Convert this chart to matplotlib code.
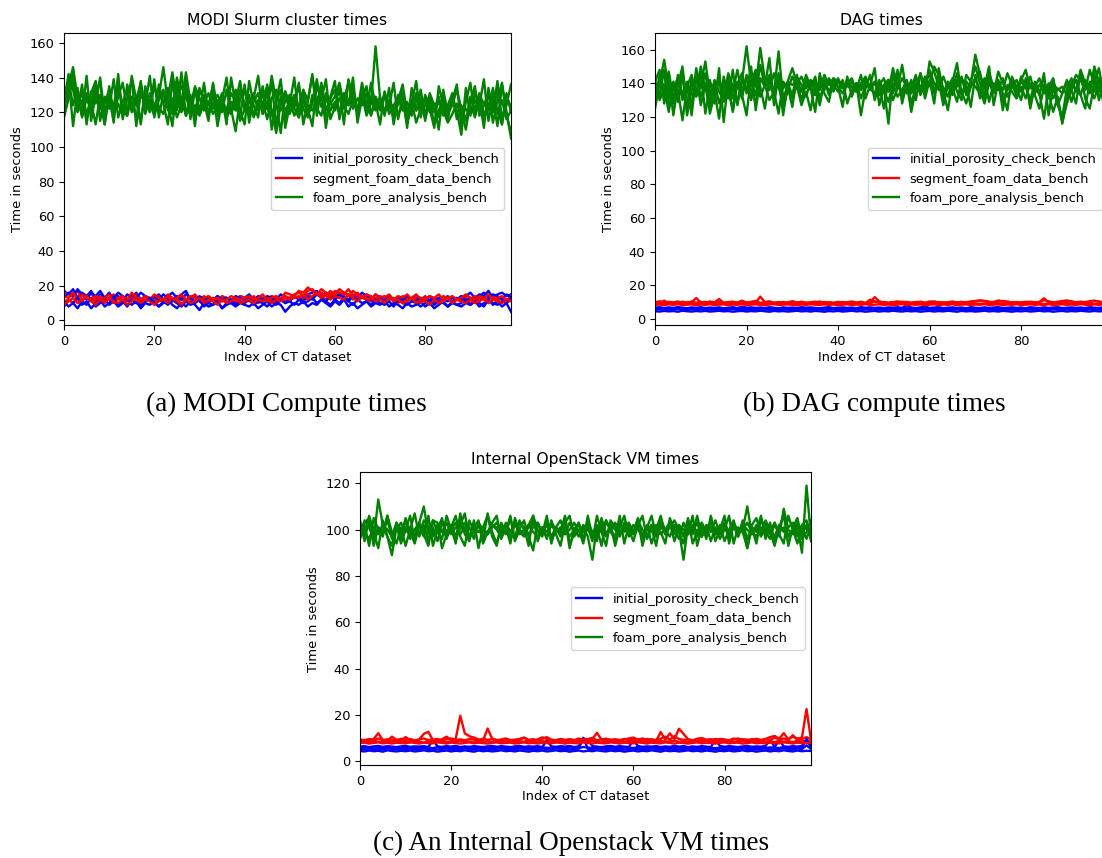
import matplotlib.pyplot as plt
import numpy as np

# ---- MODI Slurm cluster (a) ----
modi_green = [
    [120, 135, 146, 128, 118, 131, 124, 137, 115, 129, 122, 139, 117, 126, 133, 120, 128, 136, 119, 131,
     124, 129, 146, 125, 121, 140, 127, 118, 123, 135, 128, 121, 126, 119, 124, 131, 117, 122, 109, 128,
     134, 121, 126, 131, 119, 124, 137, 112, 129, 121, 126, 118, 124, 133, 127, 141, 122, 118, 131, 125,
     129, 137, 124, 119, 127, 122, 130, 118, 125, 158, 128, 121, 126, 119, 130, 124, 118, 127, 121, 133,
     117, 126, 122, 129, 118, 124, 131, 116, 121, 110, 126, 135, 118, 124, 131, 114, 127, 137, 119, 108],
    [125, 142, 133, 120, 127, 116, 131, 138, 122, 125, 133, 118, 129, 137, 121, 126, 117, 132, 127, 120,
     136, 123, 119, 128, 143, 126, 120, 132, 124, 118, 121, 130, 124, 136, 118, 127, 121, 131, 126, 115,
     122, 130, 118, 127, 124, 136, 121, 108, 125, 132, 119, 127, 135, 122, 117, 130, 124, 137, 121, 128,
     133, 120, 126, 138, 122, 128, 124, 131, 119, 126, 121, 129, 124, 117, 125, 132, 121, 126, 114, 122,
     128, 120, 125, 117, 130, 121, 127, 119, 124, 115, 129, 121, 131, 118, 125, 120, 133, 117, 124, 136],
    [118, 129, 138, 124, 131, 119, 126, 113, 130, 122, 127, 124, 136, 121, 118, 129, 124, 138, 120, 127,
     122, 131, 125, 134, 119, 127, 135, 129, 121, 124, 118, 125, 131, 122, 127, 120, 133, 119, 126, 138,
     121, 128, 117, 124, 130, 122, 118, 126, 133, 111, 124, 130, 121, 127, 118, 125, 139, 123, 128, 121,
     126, 119, 131, 124, 128, 121, 137, 125, 118, 129, 123, 131, 119, 124, 128, 121, 126, 118, 131, 124,
     120, 127, 113, 121, 128, 119, 124, 133, 122, 116, 123, 118, 130, 125, 121, 134, 119, 127, 116, 121],
    [130, 138, 124, 134, 117, 128, 121, 133, 126, 113, 129, 121, 125, 118, 136, 124, 129, 115, 131, 125,
     118, 127, 133, 121, 128, 117, 124, 143, 126, 120, 133, 127, 119, 125, 130, 124, 118, 126, 121, 133,
     125, 119, 131, 121, 126, 116, 128, 133, 121, 126, 130, 122, 117, 128, 124, 121, 128, 131, 117, 126,
     121, 128, 122, 126, 134, 120, 127, 123, 129, 121, 126, 119, 127, 122, 118, 126, 114, 123, 128, 119,
     124, 130, 120, 126, 121, 114, 119, 125, 118, 122, 119, 127, 122, 116, 124, 130, 121, 113, 131, 120],
    [122, 140, 112, 133, 118, 141, 115, 130, 138, 113, 135, 120, 142, 116, 128, 139, 112, 131, 124, 141,
     117, 136, 125, 113, 138, 121, 143, 118, 130, 112, 134, 126, 115, 137, 121, 129, 113, 140, 124, 117,
     136, 114, 128, 141, 119, 133, 110, 127, 139, 115, 130, 122, 137, 113, 126, 142, 118, 134, 111, 129,
     138, 116, 131, 124, 140, 114, 128, 135, 119, 126, 113, 132, 123, 137, 116, 129, 111, 134, 121, 128,
     115, 131, 124, 110, 133, 119, 127, 136, 112, 126, 137, 117, 128, 111, 134, 120, 138, 113, 129, 123],
    [117, 128, 144, 121, 136, 113, 132, 125, 140, 118, 129, 114, 137, 123, 118, 141, 127, 113, 135, 122,
     139, 117, 131, 126, 112, 135, 121, 138, 116, 133, 120, 137, 118, 131, 112, 127, 140, 119, 133, 121,
     113, 138, 124, 117, 135, 122, 141, 126, 108, 132, 125, 140, 117, 131, 122, 112, 136, 127, 139, 116,
     123, 134, 113, 139, 128, 119, 133, 121, 137, 124, 129, 118, 134, 113, 127, 136, 119, 125, 138, 117,
     130, 122, 111, 135, 124, 116, 129, 121, 107, 134, 118, 131, 124, 139, 115, 128, 112, 136, 120, 105],
]
modi_red = [
    [16, 15, 14, 17, 12, 13, 16, 11, 14, 12, 13, 15, 12, 14, 11, 13, 15, 12, 14, 13,
     11, 14, 12, 15, 13, 11, 14, 12, 13, 15, 12, 14, 11, 13, 12, 14, 13, 11, 12, 14,
     13, 12, 14, 11, 13, 12, 14, 13, 12, 14, 13, 15, 16, 14, 17, 18, 15, 16, 14, 17,
     15, 18, 16, 14, 17, 15, 13, 14, 12, 15, 13, 14, 12, 13, 11, 14, 12, 13, 15, 12,
     14, 11, 13, 12, 14, 13, 11, 12, 14, 13, 12, 14, 11, 13, 12, 14, 12, 13, 11, 14],
    [11, 12, 10, 13, 11, 14, 12, 10, 13, 11, 12, 10, 13, 11, 12, 14, 10, 12, 11, 13,
     10, 12, 11, 13, 12, 10, 12, 11, 13, 10, 12, 11, 10, 12, 11, 13, 10, 12, 11, 10,
     12, 11, 13, 10, 12, 11, 12, 10, 13, 11, 12, 13, 14, 12, 15, 13, 16, 14, 12, 15,
     14, 13, 16, 15, 12, 14, 13, 12, 11, 13, 12, 11, 13, 12, 10, 12, 11, 13, 12, 10,
     12, 11, 10, 12, 11, 13, 10, 12, 11, 12, 10, 11, 13, 12, 10, 12, 11, 13, 10, 12],
    [14, 13, 16, 12, 15, 13, 11, 14, 12, 13, 15, 11, 13, 14, 12, 16, 13, 11, 14, 12,
     15, 13, 12, 14, 11, 13, 15, 12, 14, 13, 11, 13, 14, 12, 13, 11, 12, 14, 13, 12,
     13, 14, 12, 13, 15, 12, 13, 14, 12, 16, 15, 14, 17, 16, 19, 17, 15, 18, 16, 14,
     17, 16, 15, 18, 14, 16, 13, 15, 14, 12, 14, 13, 15, 12, 14, 13, 15, 12, 14, 13,
     12, 14, 13, 15, 12, 13, 14, 12, 13, 15, 13, 12, 14, 13, 15, 12, 13, 14, 12, 13],
    [9, 11, 13, 10, 12, 14, 11, 9, 12, 10, 13, 11, 10, 12, 9, 11, 13, 10, 12, 11,
     9, 11, 12, 10, 13, 11, 9, 12, 10, 11, 13, 10, 12, 11, 9, 12, 10, 11, 13, 10,
     11, 12, 10, 12, 11, 13, 10, 12, 11, 13, 12, 14, 13, 15, 12, 14, 16, 13, 15, 12,
     14, 13, 12, 15, 13, 11, 14, 12, 13, 11, 12, 10, 13, 11, 12, 10, 11, 13, 10, 12,
     11, 9, 12, 10, 11, 13, 10, 12, 11, 10, 12, 10, 11, 13, 10, 12, 11, 10, 12, 11],
]
modi_blue = [
    [17, 15, 18, 13, 16, 14, 17, 12, 15, 13, 16, 12, 14, 11, 15, 13, 16, 12, 14, 11,
     13, 15, 12, 14, 16, 13, 15, 17, 12, 14, 11, 9, 13, 12, 14, 11, 13, 12, 10, 14,
     13, 15, 12, 14, 13, 11, 14, 12, 15, 13, 11, 14, 12, 13, 15, 16, 17, 14, 16, 15,
     13, 16, 14, 12, 15, 13, 16, 14, 12, 15, 13, 11, 14, 12, 13, 11, 14, 12, 13, 11,
     12, 14, 11, 13, 12, 14, 11, 13, 12, 14, 16, 13, 15, 14, 17, 13, 15, 16, 14, 15],
    [8, 12, 10, 7, 11, 9, 13, 8, 10, 12, 9, 11, 8, 10, 12, 9, 11, 7, 10, 9,
     11, 8, 10, 12, 9, 7, 10, 8, 11, 9, 6, 10, 8, 9, 11, 7, 9, 10, 8, 10,
     9, 8, 10, 7, 9, 11, 8, 10, 9, 5, 8, 10, 9, 11, 8, 10, 9, 12, 10, 8,
     11, 9, 12, 8, 10, 7, 9, 11, 8, 10, 9, 11, 8, 10, 9, 7, 10, 8, 9, 11,
     8, 10, 7, 9, 11, 8, 10, 9, 8, 10, 9, 11, 8, 10, 12, 9, 11, 8, 10, 5],
    [13, 16, 14, 18, 15, 12, 16, 14, 17, 13, 15, 13, 16, 14, 12, 15, 13, 16, 14, 12,
     14, 12, 15, 13, 11, 14, 12, 15, 13, 11, 14, 12, 13, 11, 14, 12, 13, 11, 14, 13,
     12, 14, 11, 13, 12, 14, 13, 11, 12, 10, 12, 14, 13, 11, 14, 12, 15, 13, 11, 14,
     12, 15, 13, 11, 14, 12, 13, 15, 12, 11, 13, 12, 14, 11, 13, 12, 14, 12, 11, 13,
     12, 14, 11, 13, 12, 11, 13, 12, 14, 11, 13, 12, 14, 16, 13, 15, 14, 12, 15, 13],
    [11, 8, 10, 13, 9, 11, 7, 10, 12, 8, 10, 13, 9, 11, 8, 12, 10, 9, 11, 13,
     10, 8, 11, 9, 12, 10, 8, 11, 9, 10, 12, 8, 10, 9, 11, 7, 10, 12, 9, 11,
     10, 12, 9, 11, 10, 8, 11, 9, 12, 10, 11, 9, 12, 10, 11, 13, 10, 12, 11, 9,
     12, 10, 13, 11, 9, 12, 10, 11, 9, 12, 10, 9, 11, 8, 12, 10, 9, 11, 10, 8,
     10, 12, 9, 11, 10, 8, 11, 9, 10, 12, 9, 11, 10, 8, 12, 10, 9, 11, 10, 13],
]

# ---- DAG (b) ----
dag_green = [
    [125, 140, 154, 136, 128, 145, 133, 141, 126, 149, 137, 146, 128, 142, 135, 130, 146, 138, 129, 141,
     162, 140, 133, 151, 138, 145, 130, 144, 137, 141, 139, 142, 135, 145, 138, 133, 141, 136, 143, 139,
     141, 137, 142, 138, 135, 140, 144, 137, 141, 133, 139, 142, 136, 145, 131, 140, 136, 143, 138, 134,
     153, 147, 138, 134, 141, 137, 129, 143, 136, 140, 157, 145, 138, 142, 134, 147, 140, 136, 143, 138,
     141, 137, 144, 134, 139, 142, 131, 140, 136, 138, 133, 140, 136, 145, 139, 134, 150, 141, 136, 139],
    [135, 142, 146, 131, 140, 136, 118, 138, 145, 133, 150, 136, 142, 128, 149, 117, 142, 135, 148, 133,
     121, 145, 138, 161, 142, 136, 146, 138, 128, 141, 149, 140, 144, 137, 142, 140, 136, 145, 139, 143,
     141, 140, 138, 141, 136, 145, 131, 139, 149, 127, 138, 116, 145, 137, 151, 134, 142, 130, 146, 137,
     140, 150, 145, 131, 140, 137, 146, 133, 141, 138, 142, 147, 131, 143, 137, 141, 136, 146, 139, 133,
     142, 148, 137, 140, 134, 119, 138, 143, 130, 116, 131, 138, 145, 142, 136, 148, 139, 135, 143, 122],
    [140, 133, 148, 125, 137, 143, 130, 139, 121, 145, 132, 140, 125, 137, 143, 131, 139, 124, 141, 136,
     143, 130, 146, 138, 125, 142, 135, 159, 131, 138, 126, 144, 139, 132, 141, 137, 127, 142, 135, 141,
     138, 134, 140, 143, 135, 138, 142, 136, 140, 139, 143, 135, 149, 139, 134, 141, 137, 145, 133, 140,
     148, 140, 136, 144, 137, 143, 135, 130, 145, 141, 150, 140, 133, 146, 138, 142, 129, 137, 141, 134,
     144, 138, 130, 141, 135, 139, 134, 142, 127, 120, 137, 143, 135, 148, 140, 137, 146, 130, 141, 135],
    [130, 145, 137, 123, 141, 129, 146, 121, 136, 144, 127, 139, 122, 134, 141, 129, 137, 123, 140, 131,
     145, 136, 128, 143, 139, 130, 135, 122, 141, 137, 131, 139, 127, 135, 124, 140, 137, 142, 133, 139,
     135, 142, 128, 136, 140, 131, 139, 137, 134, 141, 136, 129, 140, 132, 136, 142, 128, 138, 135, 141,
     145, 136, 141, 127, 139, 133, 142, 135, 128, 138, 143, 136, 128, 140, 135, 142, 124, 139, 135, 131,
     138, 131, 140, 133, 125, 138, 134, 123, 132, 117, 128, 136, 142, 133, 125, 141, 135, 143, 128, 131],
    [141, 148, 128, 145, 121, 139, 150, 126, 143, 133, 147, 122, 140, 135, 119, 144, 131, 148, 127, 142,
     136, 150, 124, 143, 138, 155, 127, 146, 121, 140, 133, 145, 128, 141, 137, 123, 146, 134, 129, 143,
     138, 126, 144, 132, 140, 121, 137, 145, 130, 139, 125, 142, 134, 148, 128, 140, 123, 137, 146, 131,
     142, 128, 149, 135, 124, 141, 152, 133, 139, 126, 145, 131, 138, 150, 127, 141, 134, 124, 144, 137,
     130, 143, 125, 139, 133, 146, 121, 138, 127, 134, 142, 136, 128, 147, 131, 125, 140, 149, 133, 127],
    [142, 130, 137, 147, 131, 139, 144, 126, 142, 132, 139, 153, 133, 141, 128, 137, 144, 131, 139, 146,
     134, 141, 148, 132, 139, 143, 135, 141, 125, 136, 144, 138, 130, 142, 136, 144, 131, 139, 142, 135,
     143, 137, 141, 134, 140, 136, 141, 138, 133, 142, 135, 141, 130, 137, 143, 138, 134, 140, 136, 144,
     139, 134, 145, 137, 132, 142, 138, 144, 133, 141, 138, 134, 143, 129, 140, 136, 143, 132, 138, 142,
     135, 141, 127, 138, 143, 134, 140, 131, 137, 134, 141, 129, 137, 133, 142, 138, 131, 139, 144, 136],
]
dag_red = [
    [9.0, 9.6, 10.8, 9.3, 9.8, 9.1, 10.2, 9.4, 9.9, 12.4, 9.7, 10.1, 9.3, 9.8, 11.8, 9.5, 10.0, 9.2, 9.7, 10.3,
     9.4, 9.9, 9.6, 13.2, 9.8, 10.2, 9.3, 9.7, 10.0, 9.4, 9.9, 9.5, 10.1, 9.6, 9.2, 9.8, 10.3, 9.5, 9.9, 9.3,
     9.7, 10.0, 9.4, 9.8, 9.6, 10.1, 9.3, 9.8, 12.9, 10.4, 9.7, 9.4, 9.9, 9.6, 10.2, 9.8, 9.5, 10.0, 9.7, 9.3,
     9.9, 10.4, 9.6, 9.8, 9.4, 10.1, 9.7, 9.5, 9.9, 10.3, 10.6, 10.8, 10.5, 9.7, 10.0, 10.9, 10.4, 9.6, 9.9, 9.4,
     9.8, 10.1, 9.5, 9.7, 10.0, 12.2, 9.6, 9.9, 9.4, 9.8, 10.5, 10.2, 9.7, 9.5, 10.1, 9.8, 10.6, 10.3, 9.7, 9.5],
    [8.6, 9.2, 8.8, 9.4, 8.9, 9.1, 8.7, 9.3, 8.8, 9.0, 8.7, 9.2, 8.9, 8.6, 9.1, 8.8, 9.3, 8.7, 9.0, 8.9,
     9.4, 8.8, 9.1, 8.7, 9.0, 9.2, 8.8, 9.1, 8.9, 8.7, 9.0, 9.3, 8.8, 9.1, 8.7, 8.9, 9.2, 8.8, 9.0, 9.3,
     8.9, 8.7, 9.1, 8.8, 9.0, 9.2, 8.9, 9.1, 10.4, 9.7, 9.0, 8.8, 9.2, 8.9, 9.1, 9.4, 8.8, 9.0, 8.7, 9.1,
     8.9, 9.2, 8.8, 9.0, 9.3, 8.9, 8.7, 9.1, 8.8, 9.0, 9.2, 8.9, 9.1, 8.8, 9.0, 8.7, 9.2, 8.9, 9.1, 8.8,
     9.0, 8.7, 9.1, 8.9, 9.2, 8.8, 9.0, 8.7, 9.1, 8.9, 9.3, 8.8, 9.0, 9.2, 8.9, 9.1, 8.8, 9.0, 8.9, 9.2],
    [9.8, 10.4, 9.5, 10.1, 9.7, 10.3, 9.4, 9.9, 10.2, 9.6, 10.0, 9.5, 10.3, 9.8, 10.1, 9.4, 9.9, 10.2, 9.6, 10.8,
     9.7, 10.1, 10.6, 9.5, 9.9, 10.3, 9.6, 10.0, 9.4, 9.8, 10.5, 9.7, 10.1, 9.5, 9.9, 10.2, 9.6, 10.0, 9.8, 9.5,
     10.1, 9.7, 9.9, 10.3, 9.6, 10.0, 9.4, 11.4, 10.2, 9.7, 10.0, 9.6, 9.9, 10.4, 9.7, 10.1, 9.5, 9.9, 10.2, 9.6,
     10.3, 9.8, 10.0, 9.6, 9.9, 10.2, 9.7, 10.1, 9.5, 9.9, 10.4, 10.9, 10.7, 10.2, 9.8, 10.1, 10.6, 10.3, 9.7, 10.0,
     9.6, 9.9, 10.2, 9.7, 10.0, 11.1, 10.4, 9.8, 10.1, 10.6, 10.9, 10.4, 9.8, 10.2, 9.7, 10.5, 10.8, 10.1, 9.6, 9.9],
    [8.2, 8.5, 8.1, 8.6, 8.3, 8.7, 8.2, 8.4, 8.6, 8.1, 8.5, 8.3, 8.7, 8.2, 8.4, 8.6, 8.1, 8.5, 8.3, 8.7,
     8.2, 8.4, 8.6, 8.3, 8.1, 8.5, 8.7, 8.2, 8.4, 8.6, 8.3, 8.1, 8.5, 8.2, 8.7, 8.4, 8.2, 8.6, 8.3, 8.5,
     8.1, 8.4, 8.6, 8.2, 8.5, 8.3, 8.7, 8.2, 8.4, 8.6, 8.3, 8.5, 8.1, 8.4, 8.7, 8.2, 8.5, 8.3, 8.6, 8.1,
     8.4, 8.6, 8.2, 8.5, 8.3, 8.7, 8.1, 8.4, 8.6, 8.2, 8.5, 8.3, 8.7, 8.2, 8.4, 8.6, 8.1, 8.5, 8.3, 8.7,
     8.2, 8.4, 8.6, 8.3, 8.5, 8.1, 8.7, 8.2, 8.4, 8.6, 8.3, 8.5, 8.2, 8.7, 8.4, 8.1, 8.6, 8.3, 8.5, 8.2],
]
dag_blue = [
    [6.6, 6.9, 6.4, 6.8, 6.5, 7.0, 6.6, 6.3, 6.8, 6.5, 6.9, 6.4, 6.7, 6.5, 6.8, 6.3, 6.6, 6.9, 6.4, 7.2,
     6.6, 6.8, 6.5, 6.7, 6.4, 6.9, 6.6, 6.3, 6.8, 6.5, 6.7, 6.4, 6.9, 6.6, 6.8, 6.5, 6.3, 6.7, 6.9, 6.4,
     6.6, 6.8, 6.5, 6.7, 6.4, 6.9, 6.6, 6.8, 6.5, 6.7, 6.4, 6.8, 6.6, 6.9, 6.5, 8.0, 6.7, 6.4, 6.8, 7.2,
     6.5, 6.7, 6.9, 6.4, 6.6, 6.8, 6.5, 6.7, 6.3, 6.9, 6.6, 6.4, 6.8, 6.5, 6.7, 6.9, 6.4, 6.6, 6.8, 6.5,
     6.7, 6.3, 6.9, 6.6, 6.4, 6.8, 6.5, 6.7, 6.9, 6.4, 6.6, 6.8, 6.5, 6.7, 6.4, 6.9, 6.6, 6.5, 6.8, 6.7],
    [5.5, 5.8, 5.3, 5.7, 5.4, 5.9, 5.5, 5.2, 5.7, 5.4, 5.8, 5.3, 5.6, 5.4, 5.7, 5.2, 5.5, 5.8, 5.3, 5.6,
     5.4, 5.7, 5.5, 5.2, 5.8, 5.4, 5.6, 5.3, 5.7, 5.5, 5.2, 5.6, 5.8, 5.4, 5.5, 5.7, 5.3, 5.6, 5.4, 5.8,
     5.5, 5.3, 5.7, 5.4, 5.6, 5.2, 5.8, 5.5, 5.3, 5.7, 5.4, 5.6, 5.8, 5.3, 5.5, 5.7, 5.4, 5.2, 5.6, 5.8,
     5.3, 5.5, 5.7, 5.4, 5.6, 5.3, 5.8, 5.5, 5.2, 5.7, 5.4, 5.6, 5.3, 5.8, 5.5, 5.4, 5.7, 5.2, 5.6, 5.5,
     5.8, 5.3, 5.5, 5.7, 5.4, 5.6, 5.2, 5.8, 5.5, 5.3, 5.7, 5.4, 5.6, 5.5, 5.3, 5.8, 5.4, 5.6, 5.7, 5.5],
    [4.5, 4.3, 4.7, 4.4, 4.6, 4.2, 4.8, 4.5, 4.3, 4.6, 4.4, 4.7, 4.3, 4.5, 4.8, 4.4, 4.6, 4.2, 4.5, 4.7,
     4.3, 4.6, 4.4, 4.8, 4.5, 4.2, 4.7, 4.4, 4.6, 4.3, 4.5, 4.8, 4.4, 4.6, 4.3, 4.7, 4.5, 4.2, 4.6, 4.4,
     4.7, 4.3, 4.5, 4.8, 4.4, 4.6, 4.2, 4.5, 4.7, 4.3, 4.6, 4.4, 4.8, 4.5, 4.3, 4.7, 4.4, 4.6, 4.2, 4.5,
     4.7, 4.3, 4.6, 4.4, 4.8, 4.5, 4.2, 4.7, 4.4, 4.6, 4.3, 4.5, 4.8, 4.4, 4.6, 4.3, 4.7, 4.5, 4.2, 4.6,
     4.4, 4.7, 4.3, 4.5, 4.8, 4.4, 4.6, 4.2, 4.5, 4.7, 4.3, 4.6, 4.4, 4.8, 4.5, 4.3, 4.7, 4.4, 4.6, 4.5],
    [6.1, 5.9, 6.3, 6.0, 6.2, 5.8, 6.4, 6.1, 5.9, 6.2, 6.0, 6.3, 5.9, 6.1, 6.4, 6.0, 6.2, 5.8, 6.1, 6.3,
     5.9, 6.2, 6.0, 6.4, 6.1, 5.8, 6.3, 6.0, 6.2, 5.9, 6.1, 6.4, 6.0, 6.2, 5.9, 6.3, 6.1, 5.8, 6.2, 6.0,
     6.3, 5.9, 6.1, 6.4, 6.0, 6.2, 5.8, 6.1, 6.3, 5.9, 6.2, 6.0, 6.4, 6.1, 5.9, 6.3, 6.0, 6.2, 5.8, 6.1,
     6.3, 5.9, 6.2, 6.0, 6.4, 6.1, 5.8, 6.3, 6.0, 6.2, 5.9, 6.1, 6.4, 6.0, 6.2, 5.9, 6.3, 6.1, 5.8, 6.2,
     6.0, 6.3, 5.9, 6.1, 6.4, 6.0, 6.2, 5.8, 6.1, 6.3, 5.9, 6.2, 6.0, 6.4, 6.1, 5.9, 6.3, 6.0, 6.2, 6.1],
]

# ---- Internal OpenStack VM (c) ----
vm_green = [
    [98, 104, 101, 96, 113, 102, 97, 89, 101, 99, 104, 96, 100, 103, 110, 98, 101, 95, 103, 99,
     102, 97, 104, 99, 101, 96, 103, 100, 98, 102, 101, 97, 103, 99, 96, 104, 100, 98, 101, 103,
     99, 102, 97, 101, 104, 98, 100, 103, 99, 101, 97, 87, 102, 99, 104, 100, 97, 103, 99, 101,
     98, 104, 100, 97, 102, 99, 103, 98, 101, 104, 100, 87, 102, 99, 103, 97, 101, 99, 104, 98,
     101, 97, 103, 99, 100, 110, 98, 102, 97, 101, 99, 103, 97, 109, 100, 98, 102, 90, 119, 96],
    [104, 95, 106, 99, 92, 104, 97, 93, 103, 96, 105, 99, 94, 102, 97, 106, 93, 100, 105, 96,
     102, 94, 107, 98, 95, 104, 92, 101, 106, 97, 93, 103, 99, 106, 95, 100, 104, 97, 91, 103,
     98, 106, 94, 101, 97, 105, 92, 100, 103, 95, 106, 97, 101, 93, 104, 99, 96, 106, 94, 102,
     98, 104, 93, 101, 106, 97, 99, 94, 105, 100, 96, 103, 98, 106, 93, 101, 97, 104, 95, 100,
     106, 94, 102, 97, 104, 92, 101, 99, 106, 96, 103, 95, 100, 107, 93, 101, 105, 96, 99, 104],
    [97, 103, 105, 93, 101, 98, 106, 96, 102, 94, 100, 106, 95, 103, 98, 93, 104, 99, 96, 106,
     100, 95, 102, 107, 96, 101, 104, 94, 99, 103, 106, 96, 101, 94, 105, 99, 97, 102, 106, 95,
     101, 96, 104, 98, 93, 103, 106, 97, 100, 94, 103, 99, 95, 105, 98, 102, 93, 101, 106, 97,
     99, 105, 96, 102, 94, 100, 106, 98, 103, 95, 101, 97, 105, 94, 99, 103, 96, 106, 98, 102,
     95, 100, 104, 97, 103, 96, 101, 94, 105, 99, 96, 103, 98, 94, 106, 100, 97, 102, 104, 95],
    [96, 102, 93, 105, 100, 97, 106, 99, 94, 101, 93, 100, 107, 97, 102, 95, 104, 103, 92, 98,
     101, 106, 97, 93, 104, 99, 102, 95, 107, 99, 94, 101, 98, 105, 96, 103, 101, 93, 106, 100,
     97, 104, 95, 101, 99, 106, 94, 98, 103, 96, 101, 95, 106, 99, 93, 104, 101, 97, 103, 100,
     95, 102, 106, 96, 101, 93, 104, 100, 97, 102, 99, 94, 104, 98, 106, 97, 102, 95, 101, 96,
     100, 106, 94, 101, 99, 92, 102, 105, 98, 103, 99, 93, 101, 106, 97, 100, 94, 101, 96, 102],
    [100, 98, 102, 95, 101, 99, 104, 97, 100, 103, 99, 101, 97, 102, 100, 104, 98, 101, 99, 97,
     100, 103, 98, 101, 97, 99, 102, 100, 98, 101, 103, 99, 100, 97, 102, 100, 98, 101, 103, 99,
     100, 97, 102, 99, 101, 98, 103, 100, 97, 102, 100, 99, 97, 102, 98, 100, 103, 99, 101, 98,
     102, 100, 97, 101, 99, 102, 98, 100, 103, 99, 101, 98, 100, 102, 99, 97, 101, 103, 98, 100,
     102, 99, 101, 98, 100, 103, 99, 97, 101, 100, 98, 102, 99, 101, 97, 100, 103, 99, 101, 98],
    [103, 99, 96, 101, 98, 102, 100, 97, 103, 99, 101, 97, 100, 98, 104, 101, 97, 102, 99, 103,
     98, 101, 100, 103, 97, 100, 99, 101, 98, 102, 100, 97, 101, 99, 103, 98, 100, 102, 99, 97,
     101, 99, 103, 100, 98, 101, 97, 100, 102, 99, 103, 98, 101, 99, 97, 102, 100, 98, 101, 103,
     99, 101, 98, 100, 102, 97, 101, 99, 103, 98, 102, 100, 98, 101, 97, 103, 99, 101, 98, 100,
     103, 98, 101, 99, 102, 100, 98, 101, 99, 104, 100, 97, 102, 99, 101, 103, 98, 100, 102, 97],
]
vm_red = [
    [8.5, 9.2, 8.8, 9.6, 12.1, 9.0, 8.7, 10.6, 9.3, 8.9, 10.4, 9.1, 8.6, 9.4, 11.8, 12.7, 9.0, 8.8, 9.5, 10.6,
     9.1, 9.6, 19.6, 12.0, 10.8, 10.2, 9.4, 8.9, 14.1, 9.7, 9.2, 8.8, 9.5, 9.0, 8.7, 9.3, 10.1, 9.0, 8.8, 9.4,
     10.3, 9.6, 9.0, 8.7, 9.2, 8.9, 9.5, 9.1, 8.8, 9.7, 9.2, 9.6, 12.2, 9.4, 8.9, 9.3, 9.0, 8.7, 9.4, 9.8,
     10.2, 9.3, 9.0, 9.6, 9.1, 8.8, 12.6, 9.2, 12.0, 9.5, 14.0, 11.8, 9.4, 9.0, 8.7, 9.3, 9.0, 8.8, 9.6, 9.2,
     9.0, 8.7, 9.4, 9.8, 9.1, 8.9, 9.5, 9.2, 8.8, 9.6, 10.4, 10.9, 9.7, 12.1, 9.4, 10.6, 9.8, 10.2, 22.5, 9.0],
    [8.3, 8.6, 8.1, 8.8, 8.4, 8.2, 8.7, 8.5, 8.9, 8.3, 8.6, 8.2, 8.8, 8.4, 8.1, 8.7, 8.5, 8.3, 8.9, 8.2,
     8.6, 8.4, 8.8, 8.3, 8.5, 8.1, 8.7, 8.4, 8.6, 8.2, 8.8, 8.3, 8.5, 8.7, 8.1, 8.6, 8.4, 8.9, 8.2, 8.5,
     8.7, 8.3, 8.6, 8.1, 8.8, 8.4, 8.5, 8.2, 8.7, 8.3, 8.6, 8.8, 8.4, 8.1, 8.5, 8.7, 8.3, 8.6, 8.2, 8.8,
     8.4, 8.5, 8.7, 8.3, 8.6, 8.1, 8.8, 8.4, 8.5, 8.9, 8.3, 8.6, 8.2, 8.7, 8.4, 8.5, 8.1, 8.8, 8.3, 8.6,
     8.4, 8.7, 8.2, 8.5, 8.8, 8.3, 8.6, 8.1, 8.7, 8.4, 8.5, 8.2, 8.8, 8.4, 8.6, 8.3, 8.7, 8.5, 8.9, 8.4],
    [9.4, 9.0, 9.6, 9.2, 9.8, 9.1, 9.5, 9.3, 9.0, 9.7, 9.2, 9.6, 9.0, 9.4, 9.8, 9.1, 9.3, 9.6, 9.0, 9.5,
     9.8, 9.2, 9.4, 9.0, 9.6, 9.3, 9.1, 9.7, 9.2, 9.5, 9.0, 9.4, 9.8, 9.1, 9.3, 9.6, 10.2, 9.2, 9.5, 9.0,
     9.7, 10.4, 9.3, 9.1, 9.6, 9.2, 9.4, 9.0, 9.8, 9.3, 9.5, 10.1, 9.0, 9.4, 9.7, 9.2, 9.5, 9.1, 9.6, 9.3,
     9.0, 9.4, 9.8, 9.2, 9.5, 9.1, 9.7, 10.6, 9.3, 10.8, 9.6, 9.2, 9.4, 9.0, 9.7, 10.0, 9.3, 9.5, 9.1, 9.6,
     9.4, 9.0, 9.8, 9.2, 9.5, 9.3, 9.1, 9.7, 9.2, 9.6, 9.0, 10.2, 9.4, 9.8, 9.3, 11.2, 9.1, 9.5, 10.4, 9.3],
    [7.8, 8.0, 7.6, 7.9, 8.1, 7.7, 7.9, 7.6, 8.0, 7.8, 7.7, 8.1, 7.9, 7.6, 8.0, 7.8, 7.7, 8.1, 7.9, 7.6,
     8.0, 7.8, 7.6, 7.9, 8.1, 7.7, 8.0, 7.8, 7.6, 7.9, 8.1, 7.7, 7.9, 8.0, 7.6, 7.8, 8.1, 7.7, 7.9, 7.6,
     8.0, 7.8, 7.7, 8.1, 7.9, 7.6, 8.0, 7.8, 7.7, 8.1, 7.9, 7.6, 8.0, 7.8, 7.7, 8.1, 7.9, 7.6, 8.0, 7.8,
     7.7, 8.1, 7.9, 7.6, 8.0, 7.8, 7.7, 8.1, 7.9, 7.6, 8.0, 7.8, 7.6, 7.9, 8.1, 7.7, 8.0, 7.8, 7.6, 7.9,
     8.1, 7.7, 7.9, 8.0, 7.6, 7.8, 8.1, 7.7, 7.9, 7.6, 8.0, 7.8, 7.7, 8.1, 7.9, 7.6, 8.0, 7.8, 7.7, 8.1],
]
vm_blue = [
    [6.3, 6.5, 6.1, 6.4, 6.6, 6.2, 6.5, 6.3, 6.1, 6.4, 6.6, 6.2, 6.4, 6.3, 6.5, 6.1, 9.2, 6.4, 6.2, 6.5,
     6.3, 6.6, 6.1, 6.4, 6.2, 6.5, 6.3, 6.1, 6.4, 6.6, 6.2, 6.5, 6.3, 6.1, 6.4, 6.6, 6.2, 6.4, 6.3, 6.5,
     6.1, 9.0, 6.4, 6.2, 6.5, 6.3, 6.6, 6.1, 6.4, 9.8, 9.1, 6.5, 6.3, 6.1, 6.4, 6.6, 6.2, 6.5, 6.3, 6.1,
     9.0, 6.6, 6.2, 6.4, 6.3, 6.5, 6.1, 6.4, 6.2, 6.6, 6.3, 6.5, 6.1, 6.4, 6.2, 6.5, 6.3, 6.1, 9.2, 6.6,
     6.2, 6.5, 6.3, 6.1, 6.4, 6.6, 6.2, 6.4, 6.3, 6.5, 9.4, 6.1, 9.2, 6.4, 6.2, 6.5, 6.3, 6.6, 9.4, 6.2],
    [5.3, 5.1, 5.5, 5.2, 5.4, 5.0, 5.6, 5.3, 5.1, 5.4, 5.2, 5.5, 5.1, 5.3, 5.6, 5.2, 5.4, 5.0, 5.3, 5.5,
     5.1, 5.4, 5.2, 5.6, 5.3, 5.0, 5.5, 5.2, 5.4, 5.1, 5.3, 5.6, 5.2, 5.4, 5.1, 5.5, 5.3, 5.0, 5.4, 5.2,
     5.5, 5.1, 5.3, 5.6, 5.2, 5.4, 5.0, 5.3, 5.5, 10.1, 5.4, 5.2, 5.6, 5.3, 5.1, 5.5, 5.2, 5.4, 5.0, 5.3,
     5.5, 5.1, 5.4, 5.2, 5.6, 5.3, 5.0, 5.5, 5.2, 5.4, 5.1, 5.3, 5.6, 5.2, 5.4, 5.1, 5.5, 5.3, 5.0, 5.4,
     5.2, 5.5, 5.1, 5.3, 5.6, 5.2, 5.4, 5.0, 5.3, 5.5, 5.1, 5.4, 5.2, 5.6, 5.3, 5.1, 5.5, 5.2, 6.8, 5.3],
    [4.4, 4.2, 4.6, 4.3, 4.5, 4.1, 4.7, 4.4, 4.2, 4.5, 4.3, 4.6, 4.2, 4.4, 4.7, 4.3, 4.5, 4.1, 4.4, 4.6,
     4.2, 4.5, 4.3, 4.7, 4.4, 4.1, 4.6, 4.3, 4.5, 4.2, 4.4, 4.7, 4.3, 4.5, 4.2, 4.6, 4.4, 4.1, 4.5, 4.3,
     4.6, 4.2, 4.4, 4.7, 4.3, 4.5, 4.1, 4.4, 4.6, 4.2, 4.5, 4.3, 4.7, 4.4, 4.2, 4.6, 4.3, 4.5, 4.1, 4.4,
     4.6, 4.2, 4.5, 4.3, 4.7, 4.4, 4.1, 4.6, 4.3, 4.5, 4.2, 4.4, 4.7, 4.3, 4.5, 4.2, 4.6, 4.4, 4.1, 4.5,
     4.3, 4.6, 4.2, 4.4, 4.7, 4.3, 4.5, 4.1, 4.4, 4.6, 4.2, 4.5, 4.3, 4.7, 4.4, 4.2, 4.6, 4.3, 4.5, 4.4],
    [5.8, 6.0, 5.7, 5.9, 6.1, 5.6, 5.9, 5.7, 6.0, 5.8, 5.6, 6.1, 5.8, 5.7, 6.0, 5.9, 5.6, 6.1, 5.8, 5.7,
     6.0, 5.8, 5.6, 5.9, 6.1, 5.7, 6.0, 5.8, 5.6, 5.9, 6.1, 5.7, 5.9, 6.0, 5.6, 5.8, 6.1, 5.7, 5.9, 5.6,
     6.0, 5.8, 5.7, 6.1, 5.9, 5.6, 6.0, 5.8, 5.7, 6.1, 5.9, 5.6, 6.0, 5.8, 5.7, 6.1, 5.9, 5.6, 6.0, 5.8,
     5.7, 6.1, 5.9, 5.6, 6.0, 5.8, 5.7, 6.1, 5.9, 5.6, 6.0, 5.8, 5.6, 5.9, 6.1, 5.7, 6.0, 5.8, 5.6, 5.9,
     6.1, 5.7, 5.9, 6.0, 5.6, 5.8, 6.1, 5.7, 5.9, 5.6, 6.0, 5.8, 5.7, 6.1, 5.9, 5.6, 6.0, 5.8, 9.5, 6.1],
]

labels = ["initial_porosity_check_bench", "segment_foam_data_bench", "foam_pore_analysis_bench"]
titles = ["MODI Slurm cluster times", "DAG times", "Internal OpenStack VM times"]
captions = ["(a) MODI Compute times", "(b) DAG compute times", "(c) An Internal Openstack VM times"]

FS = 9.4
LW = 1.7


def draw_panel(ax, blue, red, green, title):
    n = max(len(blue), len(red), len(green))
    for i in range(n):
        for runs, col, lab in ((blue, "b", labels[0]), (red, "r", labels[1]), (green, "g", labels[2])):
            if i < len(runs):
                y = np.asarray(runs[i])
                ax.plot(np.arange(len(y)), y, color=col, lw=LW, label=lab if i == 0 else None)
    ax.set_xlim(0, 99)
    ax.set_title(title, fontsize=FS * 1.2)
    ax.set_xlabel("Index of CT dataset", fontsize=FS, labelpad=2)
    ax.set_ylabel("Time in seconds", fontsize=FS)
    ax.tick_params(labelsize=FS)
    ax.legend(loc="center right", fontsize=FS)


fig = plt.figure(figsize=(11.02, 8.58), dpi=100)
ax_a = fig.add_axes([0.0581, 0.6212, 0.4056, 0.3403])
ax_b = fig.add_axes([0.5944, 0.6212, 0.4111, 0.3403])
ax_c = fig.add_axes([0.3267, 0.1084, 0.4093, 0.3411])

draw_panel(ax_a, modi_blue, modi_red, modi_green, titles[0])
draw_panel(ax_b, dag_blue, dag_red, dag_green, titles[1])
draw_panel(ax_c, vm_blue, vm_red, vm_green, titles[2])

cap_font = dict(fontsize=19.5, family="Liberation Serif", ha="center", va="center")
fig.text(0.260, 0.529, captions[0], **cap_font)
fig.text(0.793, 0.529, captions[1], **cap_font)
fig.text(0.5186, 0.0175, captions[2], **cap_font)

fig.savefig("out.png", dpi=100)
